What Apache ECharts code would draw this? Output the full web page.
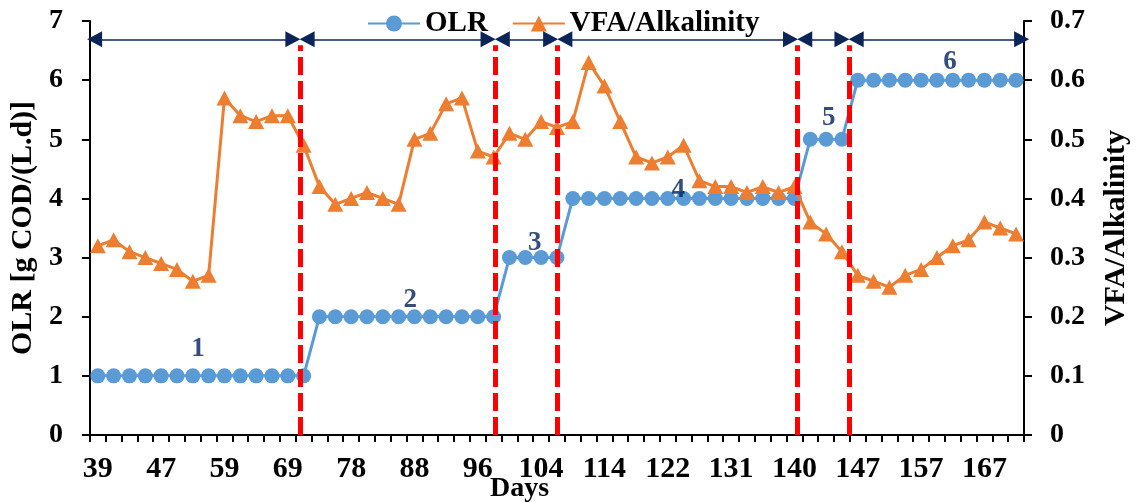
<!DOCTYPE html>
<html><head><meta charset="utf-8">
<script src="https://cdn.jsdelivr.net/npm/echarts@6/dist/echarts.min.js"></script>
<style>html,body{margin:0;padding:0;background:#fff}#c{width:1139px;height:502px}</style>
</head><body><div id="c"></div>
<script>
// Day of each sample (only every 4th is labelled on the axis)
const days = [39,41,43,45,47,50,53,56,59,61,64,66,69,71,74,76,78,81,83,86,88,90,92,94,96,98,100,102,104,107,109,112,114,116,118,120,122,124,127,129,131,133,136,138,140,142,143,145,147,150,152,155,157,160,162,165,167,169,171];
// OLR [g COD/(L.d)]
const olr = [1,1,1,1,1,1,1,1,1,1,1,1,1,1,
             2,2,2,2,2,2,2,2,2,2,2,2,
             3,3,3,3,
             4,4,4,4,4,4,4,4,4,4,4,4,4,4,4,
             5,5,5,
             6,6,6,6,6,6,6,6,6,6,6];
// VFA/Alkalinity ratio
const vfa = [0.32,0.33,0.31,0.30,0.29,0.28,0.26,0.27,
             0.57,0.54,0.53,0.54,0.54,0.49,
             0.42,0.39,0.40,0.41,0.40,0.39,
             0.50,0.51,0.56,0.57,0.48,0.47,
             0.51,0.50,0.53,0.52,
             0.53,0.63,0.59,0.53,0.47,0.46,0.47,0.49,0.43,0.42,0.42,0.41,0.42,0.41,0.42,
             0.36,0.34,0.31,
             0.27,0.26,0.25,0.27,0.28,0.30,0.32,0.33,0.36,0.35,0.34];
// phase boundaries (in sample-index units along the x axis)
const phaseBounds = [0, 13.27, 25.6, 29.55, 44.7, 47.95, 59];
const arrowEnds = [-0.15, 59.3];
const phaseNames = ['1','2','3','4','5','6'];
const phaseNamePos = [[6.83,1.46],[20.23,2.29],[28.1,3.24],[37.16,4.15],[46.66,5.36],[54.33,6.31]];
const arrowLevel = 6.69;
const dashTop = 6.59;

const FONT = 'Liberation Serif';
const NAVY = '#0B2559';
const arrowInset = 0.45;

const markData = [];
phaseBounds.slice(1, -1).forEach(b => {
  markData.push([
    {coord:[b, 0], symbol:'none', lineStyle:{color:'#FF0000', width:5, type:[18,6]}},
    {coord:[b, dashTop], symbol:'none'}
  ]);
});
for (let i = 0; i < phaseBounds.length - 1; i++) {
  let a = i === 0 ? arrowEnds[0] : phaseBounds[i];
  let b = i === phaseBounds.length - 2 ? arrowEnds[1] : phaseBounds[i + 1];
  markData.push([
    {coord:[a + arrowInset, arrowLevel], symbol:'triangle', lineStyle:{color:NAVY, width:1.5, type:'solid'}},
    {coord:[b - arrowInset, arrowLevel], symbol:'triangle'}
  ]);
}

const chart = echarts.init(document.getElementById('c'), null, {renderer:'canvas'});
const axisLine = {show:true, onZero:false, lineStyle:{color:'#000', width:2}};
const axisTick = {show:true, inside:false, length:8, lineStyle:{color:'#000', width:2}};
const lbl = {color:'#000', fontFamily:FONT, fontWeight:'bold', fontSize:28};
chart.setOption({
  animation:false,
  backgroundColor:'#fff',
  grid:{left:89, right:113, top:21, bottom:67, containLabel:false},
  legend:{
    data:['OLR','VFA/Alkalinity'],
    left:362, top:4, itemWidth:52, itemHeight:20, itemGap:24,
    textStyle:{color:'#000', fontFamily:FONT, fontWeight:'bold', fontSize:29}
  },
  xAxis:[
    {type:'category', data:days, boundaryGap:true, position:'bottom',
     axisLine:axisLine, axisTick:{show:true, interval:0, length:7, lineStyle:{color:'#000', width:2}},
     axisLabel:Object.assign({}, lbl, {interval:3, margin:19, fontSize:30}),
     splitLine:{show:false}},
    {type:'value', min:0, max:59, show:false, splitLine:{show:false}}
  ],
  yAxis:[
    {type:'value', min:0, max:7, interval:1, position:'left',
     name:'OLR [g COD/(L.d)]', nameLocation:'middle', nameGap:51, nameRotate:90,
     nameTextStyle:{color:'#000', fontFamily:FONT, fontWeight:'bold', fontSize:30},
     axisLine:axisLine, axisTick:axisTick, axisLabel:Object.assign({margin:27}, lbl),
     splitLine:{show:false}},
    {type:'value', min:0, max:0.7, interval:0.1, position:'right',
     name:'VFA/Alkalinity', nameLocation:'middle', nameGap:77, nameRotate:90,
     nameTextStyle:{color:'#000', fontFamily:FONT, fontWeight:'bold', fontSize:30},
     axisLine:axisLine, axisTick:axisTick,
     axisLabel:Object.assign({margin:26, formatter:v => v === 0 ? '0' : v.toFixed(1)}, lbl),
     splitLine:{show:false}}
  ],
  series:[
    {name:'OLR', type:'line', xAxisIndex:0, yAxisIndex:0, data:olr, z:2,
     symbol:'circle', symbolSize:15, showAllSymbol:true,
     itemStyle:{color:'#5B9BD5'}, lineStyle:{color:'#5B9BD5', width:3}},
    {name:'VFA/Alkalinity', type:'line', xAxisIndex:0, yAxisIndex:1, data:vfa, z:3,
     symbol:'triangle', symbolSize:[16,15], showAllSymbol:true,
     itemStyle:{color:'#ED7D31'}, lineStyle:{color:'#ED7D31', width:3}},
    {type:'scatter', xAxisIndex:1, yAxisIndex:0, z:5, clip:false, silent:true,
     symbolSize:0,
     data:phaseNames.map((n, i) => ({name:n, value:phaseNamePos[i]})),
     label:{show:true, position:'inside', formatter:p => p.name, color:'#002060',
            fontFamily:FONT, fontWeight:'bold', fontSize:27},
     markLine:{silent:true, animation:false, label:{show:false}, emphasis:{disabled:true},
               symbol:['none','none'], symbolSize:[16,15], data:markData}}
  ],
  graphic:[
    {type:'text', left:490, top:475, z:10, silent:true,
     style:{text:'Days', fill:'#000', font:'bold 28px "Liberation Serif"'}}
  ]
});
</script>
</body></html>
